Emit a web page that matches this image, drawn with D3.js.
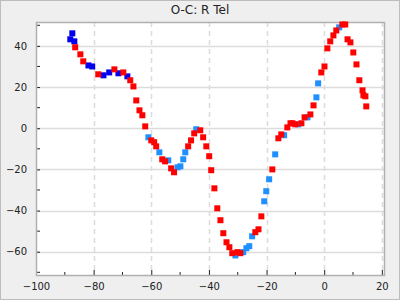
<!DOCTYPE html>
<html>
<head>
<meta charset="utf-8">
<script src="https://cdn.jsdelivr.net/npm/d3@7"></script>
<style>
  html, body { margin: 0; padding: 0; background: #efefef; }
  svg { display: block; font-family: "DejaVu Sans", sans-serif; }
</style>
</head>
<body>
<div id="chart-area"></div>
<script>
// Datos: [E, O-C] por serie
const blueData = [
    [-87.4, 46.1], [-88.1, 43.2], [-86.7, 42.2], [-81.8, 30.5], [-80.5, 30.0],
    [-76.6, 25.7], [-74.6, 27.1], [-71.4, 26.7], [-68.3, 25.2]
];

const lightBlueData = [
    [-61.0, -4.4], [-57.2, -11.7], [-54.1, -15.6], [-50.9, -19.0], [-49.9, -18.5],
    [-48.9, -15.1], [-48.2, -11.7], [-44.4, -0.5], [-30.8, -61.8], [-28.1, -60.2],
    [-27.0, -58.3], [-26.0, -57.3], [-25.0, -52.5], [-20.8, -35.5], [-20.1, -30.6],
    [-19.1, -24.8], [-17.0, -12.7], [-13.9, -3.4], [-9.0, 1.9], [-5.8, 5.3],
    [-2.7, 15.0], [-2.1, 21.8], [5.2, 49.0]
];

const redData = [
    [-86.4, 39.3], [-84.6, 35.9], [-83.6, 32.5], [-78.4, 26.2], [-72.8, 28.6],
    [-69.7, 27.1], [-67.3, 23.3], [-66.2, 20.3], [-65.2, 13.5], [-64.1, 8.7],
    [-63.1, 6.3], [-62.1, 0.9], [-60.0, -5.9], [-59.0, -6.8], [-58.3, -8.8],
    [-56.2, -15.1], [-55.2, -16.1], [-53.1, -19.5], [-52.1, -21.4], [-47.2, -8.8],
    [-46.2, -5.9], [-45.1, -2.5], [-43.0, -1.0], [-42.0, -4.4], [-40.9, -8.8],
    [-39.9, -13.6], [-39.2, -20.4], [-38.1, -29.2], [-37.1, -38.9], [-36.0, -44.7],
    [-35.0, -51.0], [-33.9, -55.4], [-32.9, -57.8], [-31.9, -60.7], [-30.1, -60.2],
    [-29.1, -60.7], [-23.9, -50.5], [-22.8, -49.1], [-21.8, -42.8], [-18.0, -20.0],
    [-15.9, -4.9], [-14.9, -3.0], [-12.8, 0.4], [-11.7, 2.4], [-11.0, 2.4],
    [-10.0, 1.9], [-7.9, 2.4], [-6.8, 5.3], [-4.8, 6.7], [-3.7, 11.1],
    [-1.0, 27.1], [0.1, 30.0], [1.1, 38.8], [2.1, 42.2], [3.2, 45.1],
    [4.2, 47.5], [6.3, 50.4], [7.3, 50.4], [8.1, 43.2], [9.1, 41.7],
    [10.1, 36.8], [11.2, 31.0], [12.2, 23.3], [13.3, 18.4], [13.6, 16.0],
    [14.3, 15.5], [14.6, 10.6]
];

const xTicks = [-100, -80, -60, -40, -20, 0, 20];
const yTicks = [-60, -40, -20, 0, 20, 40];
const titleText = "O-C: R Tel";

const W = 400;
const H = 300;
const margin = { top: 22, right: 15, bottom: 25, left: 36 };
const width = W - margin.left - margin.right;
const height = H - margin.top - margin.bottom;

// Crear SVG
const svg = d3.select("#chart-area")
    .append("svg")
    .attr("width", W)
    .attr("height", H);

svg.append("rect")
    .attr("x", 0.5).attr("y", 0.5)
    .attr("width", W - 1).attr("height", H - 1)
    .attr("fill", "#efefef")
    .attr("stroke", "#bdbdbd");

// Titulo
svg.append("text")
    .attr("x", W / 2)
    .attr("y", 14)
    .attr("text-anchor", "middle")
    .attr("font-size", "12px")
    .attr("fill", "#222")
    .text(titleText);

const g = svg.append("g")
    .attr("transform", `translate(${margin.left},${margin.top})`);

// Escalas
const x = d3.scaleLinear().domain([-100, 21.1]).range([0, width]);
const y = d3.scaleLinear().domain([-71.3, 51.6]).range([height, 0]);

g.append("rect")
    .attr("width", width)
    .attr("height", height)
    .attr("fill", "white");

// Rejilla
g.append("g")
    .selectAll("line")
    .data(yTicks)
    .join("line")
    .attr("x1", 0).attr("x2", width)
    .attr("y1", d => Math.round(y(d)) + 0.5)
    .attr("y2", d => Math.round(y(d)) + 0.5)
    .attr("stroke", "#dcdcdc")
    .attr("stroke-width", 1.5);

g.append("g")
    .selectAll("line")
    .data(xTicks.slice(1))
    .join("line")
    .attr("x1", d => Math.round(x(d)) + 0.5)
    .attr("x2", d => Math.round(x(d)) + 0.5)
    .attr("y1", 0).attr("y2", height)
    .attr("stroke", "#dcdcdc")
    .attr("stroke-width", 1.5)
    .attr("stroke-dasharray", "5,4");

// Ejes (ticks hacia dentro)
const minorX = d3.range(-90, 21, 20);
const minorY = d3.range(-70, 52, 20);

const bottomAxis = d3.axisBottom(x).tickValues(xTicks).tickSize(-5).tickPadding(8);
const bottom = g.append("g")
    .attr("transform", `translate(0,${height})`)
    .call(bottomAxis);

bottom.selectAll(".minor")
    .data(minorX)
    .join("line")
    .attr("class", "minor")
    .attr("x1", d => x(d)).attr("x2", d => x(d))
    .attr("y1", 0).attr("y2", -3)
    .attr("stroke", "#222");

const leftAxis = d3.axisLeft(y).tickValues(yTicks).tickSize(-4).tickPadding(9);
const left = g.append("g").call(leftAxis);

left.selectAll(".minor")
    .data(minorY)
    .join("line")
    .attr("class", "minor")
    .attr("x1", 0).attr("x2", 4)
    .attr("y1", d => y(d)).attr("y2", d => y(d))
    .attr("stroke", "#222");

[bottom, left].forEach(a => {
    a.select(".domain").remove();
    a.selectAll(".tick line").attr("stroke", "#222");
    a.selectAll("text")
        .attr("font-size", "10px")
        .attr("font-family", "DejaVu Sans, sans-serif")
        .attr("fill", "#222");
});

// Marco del area
g.append("rect")
    .attr("x", 0.5).attr("y", 0.5)
    .attr("width", width - 1)
    .attr("height", height)
    .attr("fill", "none")
    .attr("stroke", "#b0b0b0")
    .attr("stroke-width", 1.5);

// Puntos
const size = 6;
function drawSeries(data, color) {
    g.append("g")
        .selectAll("rect")
        .data(data)
        .join("rect")
        .attr("x", d => x(d[0]) - size / 2)
        .attr("y", d => y(d[1]) - size / 2)
        .attr("width", size)
        .attr("height", size)
        .attr("fill", color);
}

drawSeries(lightBlueData, "#1e90ff");
drawSeries(blueData, "#0000ee");
drawSeries(redData, "#ff0000");
</script>
</body>
</html>
